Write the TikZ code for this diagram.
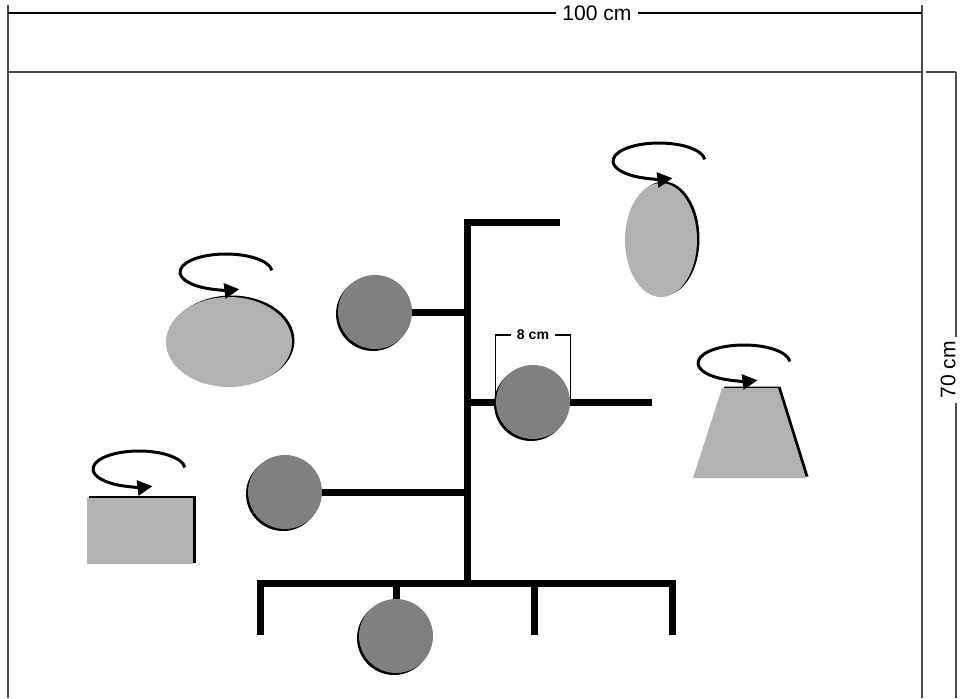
\documentclass[tikz,border=0pt]{standalone}
\usepackage{fontspec}
\setmainfont{Liberation Sans}
\usepackage{tikz}
\usetikzlibrary{backgrounds}
\usetikzlibrary{shapes.geometric}
\usetikzlibrary{shadows}
\usetikzlibrary{arrows.meta}
\definecolor{ballgray}{rgb}{0.5,0.5,0.5}
\definecolor{shapegray}{rgb}{0.7,0.7,0.7}
\definecolor{linegray}{rgb}{0.3,0.3,0.3}

\begin{document}
\begin{tikzpicture}[
            x = 0.02cm, y = 0.02cm, % one unit = one pixel
            bar/.style = {line width = 0.14cm, line join = miter}, % mobile wire
            frame/.style = {line width = 0.9pt, draw = linegray},
            dim/.style = {line width = 0.6pt},
            spin/.style = {line width = 1.7pt, -{Triangle[length = 0.3cm, width = 0.3cm]}}
            ]

        \tikzstyle{ball}=[
            circle,
            fill = ballgray,
            inner sep = 0pt,
            minimum size = 1.48cm,
            drop shadow = {shadow xshift = -0.04cm, shadow yshift = -0.04cm, fill = black, opacity = 1}
        ]
        \tikzstyle{blob}=[
            fill = shapegray,
            inner sep = 0pt,
            drop shadow = {shadow xshift = 0.05cm, shadow yshift = 0.03cm, fill = black, opacity = 1}
        ]

        \useasboundingbox (0,0) rectangle (961,698);

	% frame and sizes
	\coordinate (TL) at (8,693);
	\coordinate (TR) at (922,693);
	\coordinate (BL) at (8,0);
	\coordinate (BR) at (922,0);
	\coordinate (FL) at (8,626);
	\coordinate (FR) at (922,626);
	\coordinate (RA) at (926,626);
	\coordinate (RT) at (956,626);
	\coordinate (RB) at (956,0);
	\draw[frame] (TL) -- (BL);
	\draw[frame] (TR) -- (BR);
	\draw[frame] (FL) -- (FR);
	\draw[frame] (RA) -- (RT);

	\node[font = \fontsize{12}{14}\selectfont] (W) at (597,685) {100 cm};
	\draw[dim] (TL |- W) -- (W.west);
	\draw[dim] (W.east) -- (TR |- W);

	\node[rotate = 90, inner sep = 2pt, font = \fontsize{12}{14}\selectfont] (H) at (948,328) {70 cm};
	\draw[frame] (RT) -- (RT |- H.east);
	\draw[frame] (RT |- H.west) -- (RB);

	% balls
	\node[ball] (A) at (375,386) {};
	\node[ball] (B) at (533,296) {};
	\node[ball] (C) at (285,206) {};
	\node[ball] (D) at (396,62) {};

	% wires
	\coordinate (T) at (560,476);
	\coordinate (top) at (467,476);
	\coordinate (base) at (467,115);
	\coordinate (L1) at (260,63);
	\coordinate (L3) at (534,63);
	\coordinate (L4) at (672,63);
	\coordinate (E) at (652,296);
	\begin{scope}[on background layer]
	 \draw[bar] (T) -- (top) -- (base);
	 \draw[bar] (A) -- (A -| top);
	 \draw[bar] (B -| top) -- (E);
	 \draw[bar] (C) -- (C -| top);
	 \draw[bar] (L1) -- (L1 |- base) -- (L4 |- base) -- (L4);
	 \draw[bar] (L3 |- base) -- (L3);
	 \draw[bar] (D |- base) -- (D);
	\end{scope}

	% ball size
	\node[font = \bfseries\fontsize{8}{9}\selectfont] (M) at (533,363) {8 cm};
	\draw[dim] (B.west) -- (B.west |- M) -- (M.west);
	\draw[dim] (B.east) -- (B.east |- M) -- (M.east);

	% turning shapes
	\node[blob, ellipse, minimum width = 2.52cm, minimum height = 1.8cm] (E1) at (229,356) {};
	\node[blob, ellipse, minimum width = 1.44cm, minimum height = 2.28cm] (E2) at (661,458) {};
	\node[blob, rectangle, minimum width = 2.14cm, minimum height = 1.34cm] (S) at (140,167) {};
	\fill[blob] (693,220) -- (806,220) -- (778,310) -- (722,310) -- cycle;

	\coordinate (R1) at (226,426);
	\coordinate (R2) at (659,537);
	\coordinate (R3) at (744,335);
	\coordinate (R4) at (139,229);
	\draw[spin] (R1) ++(5:0.92cm and 0.36cm) arc[start angle = 5, end angle = 287, x radius = 0.92cm, y radius = 0.36cm];
	\draw[spin] (R2) ++(5:0.92cm and 0.36cm) arc[start angle = 5, end angle = 287, x radius = 0.92cm, y radius = 0.36cm];
	\draw[spin] (R3) ++(5:0.92cm and 0.36cm) arc[start angle = 5, end angle = 287, x radius = 0.92cm, y radius = 0.36cm];
	\draw[spin] (R4) ++(5:0.92cm and 0.36cm) arc[start angle = 5, end angle = 287, x radius = 0.92cm, y radius = 0.36cm];

\end{tikzpicture}
\end{document}
